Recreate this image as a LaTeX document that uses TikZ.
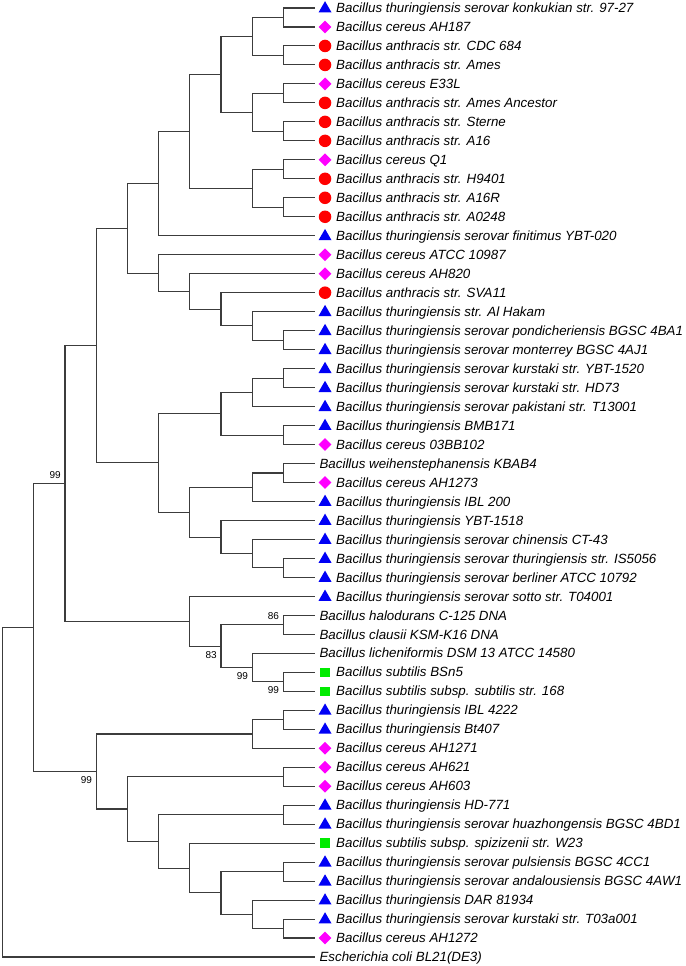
\documentclass[tikz,border=0pt]{standalone}
\usepackage{fontspec}
\setmainfont{Liberation Sans}
\usepackage{tikz}
\usetikzlibrary{shapes.geometric}

\definecolor{branchgray}{RGB}{60,60,60}
\definecolor{triblue}{RGB}{0,0,245}
\definecolor{diamagenta}{RGB}{255,0,255}
\definecolor{dotred}{RGB}{255,0,0}
\definecolor{sqgreen}{RGB}{0,235,0}

\tikzset{
    branch/.style={draw=branchgray, line width=0.8pt},
    tri/.style={regular polygon, regular polygon sides=3, fill=triblue, inner sep=0pt, minimum size=11.25pt, xshift=7.9pt, yshift=-0.5pt},
    dia/.style={diamond, fill=diamagenta, inner sep=0pt, minimum size=9.75pt, xshift=7.9pt},
    dot/.style={circle, fill=dotred, inner sep=0pt, minimum size=9.4pt, xshift=7.9pt},
    sq/.style={rectangle, fill=sqgreen, inner sep=0pt, minimum size=7pt, xshift=7.9pt},
    lab/.style={anchor=base west, inner sep=0pt, font=\fontsize{10}{12}\selectfont\itshape, xshift=16.1pt, yshift=-3.5pt},
    labn/.style={anchor=base west, inner sep=0pt, font=\fontsize{10}{12}\selectfont\itshape, xshift=3.6pt, yshift=-3.5pt},
    boot/.style={anchor=east, inner sep=0pt, font=\fontsize{7.5}{9}\selectfont, xshift=-3pt},
    bootup/.style={boot, yshift=6.3pt},
    bootdn/.style={boot, yshift=-6.3pt}
}

\begin{document}
\begin{tikzpicture}[x={(0.75pt,0)}, y={(0,-14.235pt)}]
    \useasboundingbox (0,0.5785) rectangle (685,51.4742);

    \foreach \i in {1,...,51}
        \coordinate (l\i) at (314.5,\i);

    % leaves
    \node[tri] (m1) at (l1) {};  \node[lab] (t1) at (l1) {Bacillus thuringiensis serovar konkukian str. 97-27};
    \node[dia] (m2) at (l2) {};  \node[lab] (t2) at (l2) {Bacillus cereus AH187};
    \node[dot] (m3) at (l3) {};  \node[lab] (t3) at (l3) {Bacillus anthracis str. CDC 684};
    \node[dot] (m4) at (l4) {};  \node[lab] (t4) at (l4) {Bacillus anthracis str. Ames};
    \node[dia] (m5) at (l5) {};  \node[lab] (t5) at (l5) {Bacillus cereus E33L};
    \node[dot] (m6) at (l6) {};  \node[lab] (t6) at (l6) {Bacillus anthracis str. Ames Ancestor};
    \node[dot] (m7) at (l7) {};  \node[lab] (t7) at (l7) {Bacillus anthracis str. Sterne};
    \node[dot] (m8) at (l8) {};  \node[lab] (t8) at (l8) {Bacillus anthracis str. A16};
    \node[dia] (m9) at (l9) {};  \node[lab] (t9) at (l9) {Bacillus cereus Q1};
    \node[dot] (m10) at (l10) {}; \node[lab] (t10) at (l10) {Bacillus anthracis str. H9401};
    \node[dot] (m11) at (l11) {}; \node[lab] (t11) at (l11) {Bacillus anthracis str. A16R};
    \node[dot] (m12) at (l12) {}; \node[lab] (t12) at (l12) {Bacillus anthracis str. A0248};
    \node[tri] (m13) at (l13) {}; \node[lab] (t13) at (l13) {Bacillus thuringiensis serovar finitimus YBT-020};
    \node[dia] (m14) at (l14) {}; \node[lab] (t14) at (l14) {Bacillus cereus ATCC 10987};
    \node[dia] (m15) at (l15) {}; \node[lab] (t15) at (l15) {Bacillus cereus AH820};
    \node[dot] (m16) at (l16) {}; \node[lab] (t16) at (l16) {Bacillus anthracis str. SVA11};
    \node[tri] (m17) at (l17) {}; \node[lab] (t17) at (l17) {Bacillus thuringiensis str. Al Hakam};
    \node[tri] (m18) at (l18) {}; \node[lab] (t18) at (l18) {Bacillus thuringiensis serovar pondicheriensis BGSC 4BA1};
    \node[tri] (m19) at (l19) {}; \node[lab] (t19) at (l19) {Bacillus thuringiensis serovar monterrey BGSC 4AJ1};
    \node[tri] (m20) at (l20) {}; \node[lab] (t20) at (l20) {Bacillus thuringiensis serovar kurstaki str. YBT-1520};
    \node[tri] (m21) at (l21) {}; \node[lab] (t21) at (l21) {Bacillus thuringiensis serovar kurstaki str. HD73};
    \node[tri] (m22) at (l22) {}; \node[lab] (t22) at (l22) {Bacillus thuringiensis serovar pakistani str. T13001};
    \node[tri] (m23) at (l23) {}; \node[lab] (t23) at (l23) {Bacillus thuringiensis BMB171};
    \node[dia] (m24) at (l24) {}; \node[lab] (t24) at (l24) {Bacillus cereus 03BB102};
    \node[labn] (t25) at (l25) {Bacillus weihenstephanensis KBAB4};
    \node[dia] (m26) at (l26) {}; \node[lab] (t26) at (l26) {Bacillus cereus AH1273};
    \node[tri] (m27) at (l27) {}; \node[lab] (t27) at (l27) {Bacillus thuringiensis IBL 200};
    \node[tri] (m28) at (l28) {}; \node[lab] (t28) at (l28) {Bacillus thuringiensis YBT-1518};
    \node[tri] (m29) at (l29) {}; \node[lab] (t29) at (l29) {Bacillus thuringiensis serovar chinensis CT-43};
    \node[tri] (m30) at (l30) {}; \node[lab] (t30) at (l30) {Bacillus thuringiensis serovar thuringiensis str. IS5056};
    \node[tri] (m31) at (l31) {}; \node[lab] (t31) at (l31) {Bacillus thuringiensis serovar berliner ATCC 10792};
    \node[tri] (m32) at (l32) {}; \node[lab] (t32) at (l32) {Bacillus thuringiensis serovar sotto str. T04001};
    \node[labn] (t33) at (l33) {Bacillus halodurans C-125 DNA};
    \node[labn] (t34) at (l34) {Bacillus clausii KSM-K16 DNA};
    \node[labn] (t35) at (l35) {Bacillus licheniformis DSM 13 ATCC 14580};
    \node[sq] (m36) at (l36) {};  \node[lab] (t36) at (l36) {Bacillus subtilis BSn5};
    \node[sq] (m37) at (l37) {};  \node[lab] (t37) at (l37) {Bacillus subtilis subsp. subtilis str. 168};
    \node[tri] (m38) at (l38) {}; \node[lab] (t38) at (l38) {Bacillus thuringiensis IBL 4222};
    \node[tri] (m39) at (l39) {}; \node[lab] (t39) at (l39) {Bacillus thuringiensis Bt407};
    \node[dia] (m40) at (l40) {}; \node[lab] (t40) at (l40) {Bacillus cereus AH1271};
    \node[dia] (m41) at (l41) {}; \node[lab] (t41) at (l41) {Bacillus cereus AH621};
    \node[dia] (m42) at (l42) {}; \node[lab] (t42) at (l42) {Bacillus cereus AH603};
    \node[tri] (m43) at (l43) {}; \node[lab] (t43) at (l43) {Bacillus thuringiensis HD-771};
    \node[tri] (m44) at (l44) {}; \node[lab] (t44) at (l44) {Bacillus thuringiensis serovar huazhongensis BGSC 4BD1};
    \node[sq] (m45) at (l45) {};  \node[lab] (t45) at (l45) {Bacillus subtilis subsp. spizizenii str. W23};
    \node[tri] (m46) at (l46) {}; \node[lab] (t46) at (l46) {Bacillus thuringiensis serovar pulsiensis BGSC 4CC1};
    \node[tri] (m47) at (l47) {}; \node[lab] (t47) at (l47) {Bacillus thuringiensis serovar andalousiensis BGSC 4AW1};
    \node[tri] (m48) at (l48) {}; \node[lab] (t48) at (l48) {Bacillus thuringiensis DAR 81934};
    \node[tri] (m49) at (l49) {}; \node[lab] (t49) at (l49) {Bacillus thuringiensis serovar kurstaki str. T03a001};
    \node[dia] (m50) at (l50) {}; \node[lab] (t50) at (l50) {Bacillus cereus AH1272};
    \node[labn] (t51) at (l51) {Escherichia coli BL21(DE3)};

    % inner nodes
    \coordinate (a1) at (283.3,1.5);
    \coordinate (a2) at (283.3,3.5);
    \coordinate (a3) at (252.2,2.5);
    \coordinate (a4) at (283.3,5.5);
    \coordinate (a5) at (283.3,7.5);
    \coordinate (a6) at (252.2,6.5);
    \coordinate (a7) at (221.0,4.5);
    \coordinate (a8) at (283.3,9.5);
    \coordinate (a9) at (283.3,11.5);
    \coordinate (a10) at (252.2,10.5);
    \coordinate (a11) at (189.8,7.5);
    \coordinate (a12) at (158.6,10.25);
    \coordinate (b1) at (283.3,18.5);
    \coordinate (b2) at (252.2,17.75);
    \coordinate (b3) at (221.0,16.875);
    \coordinate (b4) at (189.8,15.9375);
    \coordinate (b5) at (158.6,14.96875);
    \coordinate (c1) at (127.4,12.609375);
    \coordinate (d1) at (283.3,20.5);
    \coordinate (d2) at (252.2,21.25);
    \coordinate (d3) at (283.3,23.5);
    \coordinate (d4) at (221.0,22.375);
    \coordinate (e1) at (283.3,25.5);
    \coordinate (e2) at (252.2,26.25);
    \coordinate (e3) at (283.3,30.5);
    \coordinate (e4) at (252.2,29.75);
    \coordinate (e5) at (221.0,28.875);
    \coordinate (e6) at (189.8,27.5625);
    \coordinate (f1) at (158.6,24.96875);
    \coordinate (g1) at (96.2,18.7890625);
    \coordinate (k1) at (283.3,33.5);
    \coordinate (k2) at (283.3,36.5);
    \coordinate (k3) at (252.2,35.75);
    \coordinate (k4) at (221.0,34.625);
    \coordinate (k5) at (189.8,33.3125);
    \coordinate (g2) at (65.0,26.05078125);
    \coordinate (p1) at (283.3,38.5);
    \coordinate (p2) at (252.2,39.25);
    \coordinate (q1) at (283.3,41.5);
    \coordinate (q2) at (283.3,43.5);
    \coordinate (q3) at (283.3,46.5);
    \coordinate (q4) at (283.3,49.5);
    \coordinate (q5) at (252.2,48.75);
    \coordinate (q6) at (221.0,47.625);
    \coordinate (q7) at (189.8,46.3125);
    \coordinate (q8) at (158.6,44.90625);
    \coordinate (q9) at (127.4,43.203125);
    \coordinate (r1) at (96.2,41.2265625);
    \coordinate (s1) at (33.9,33.638671875);
    \coordinate (root) at (2.7,42.3193359);

    % branches
    \draw[branch] (a1) |- (l1) (a1) |- (l2);
    \draw[branch] (a2) |- (l3) (a2) |- (l4);
    \draw[branch] (a3) |- (a1) (a3) |- (a2);
    \draw[branch] (a4) |- (l5) (a4) |- (l6);
    \draw[branch] (a5) |- (l7) (a5) |- (l8);
    \draw[branch] (a6) |- (a4) (a6) |- (a5);
    \draw[branch] (a7) |- (a3) (a7) |- (a6);
    \draw[branch] (a8) |- (l9) (a8) |- (l10);
    \draw[branch] (a9) |- (l11) (a9) |- (l12);
    \draw[branch] (a10) |- (a8) (a10) |- (a9);
    \draw[branch] (a11) |- (a7) (a11) |- (a10);
    \draw[branch] (a12) |- (a11) (a12) |- (l13);
    \draw[branch] (b1) |- (l18) (b1) |- (l19);
    \draw[branch] (b2) |- (l17) (b2) |- (b1);
    \draw[branch] (b3) |- (l16) (b3) |- (b2);
    \draw[branch] (b4) |- (l15) (b4) |- (b3);
    \draw[branch] (b5) |- (l14) (b5) |- (b4);
    \draw[branch] (c1) |- (a12) (c1) |- (b5);
    \draw[branch] (d1) |- (l20) (d1) |- (l21);
    \draw[branch] (d2) |- (d1) (d2) |- (l22);
    \draw[branch] (d3) |- (l23) (d3) |- (l24);
    \draw[branch] (d4) |- (d2) (d4) |- (d3);
    \draw[branch] (e1) |- (l25) (e1) |- (l26);
    \draw[branch] (e2) |- (e1) (e2) |- (l27);
    \draw[branch] (e3) |- (l30) (e3) |- (l31);
    \draw[branch] (e4) |- (l29) (e4) |- (e3);
    \draw[branch] (e5) |- (l28) (e5) |- (e4);
    \draw[branch] (e6) |- (e2) (e6) |- (e5);
    \draw[branch] (f1) |- (d4) (f1) |- (e6);
    \draw[branch] (g1) |- (c1) (g1) |- (f1);
    \draw[branch] (k1) |- (l33) (k1) |- (l34);
    \draw[branch] (k2) |- (l36) (k2) |- (l37);
    \draw[branch] (k3) |- (l35) (k3) |- (k2);
    \draw[branch] (k4) |- (k1) (k4) |- (k3);
    \draw[branch] (k5) |- (l32) (k5) |- (k4);
    \draw[branch] (g2) |- (g1) (g2) |- (k5);
    \draw[branch] (p1) |- (l38) (p1) |- (l39);
    \draw[branch] (p2) |- (p1) (p2) |- (l40);
    \draw[branch] (q1) |- (l41) (q1) |- (l42);
    \draw[branch] (q2) |- (l43) (q2) |- (l44);
    \draw[branch] (q3) |- (l46) (q3) |- (l47);
    \draw[branch] (q4) |- (l49) (q4) |- (l50);
    \draw[branch] (q5) |- (l48) (q5) |- (q4);
    \draw[branch] (q6) |- (q3) (q6) |- (q5);
    \draw[branch] (q7) |- (l45) (q7) |- (q6);
    \draw[branch] (q8) |- (q2) (q8) |- (q7);
    \draw[branch] (q9) |- (q1) (q9) |- (q8);
    \draw[branch] (r1) |- (p2) (r1) |- (q9);
    \draw[branch] (s1) |- (g2) (s1) |- (r1);
    \draw[branch] (root) |- (s1) (root) |- (l51);

    % bootstrap values
    \node[bootup] (bs1) at (g2) {99};
    \node[bootdn] (bs2) at (r1) {99};
    \node[bootup] (bs3) at (k1) {86};
    \node[bootdn] (bs4) at (k4) {83};
    \node[bootdn] (bs5) at (k3) {99};
    \node[bootdn] (bs6) at (k2) {99};
\end{tikzpicture}
\end{document}
